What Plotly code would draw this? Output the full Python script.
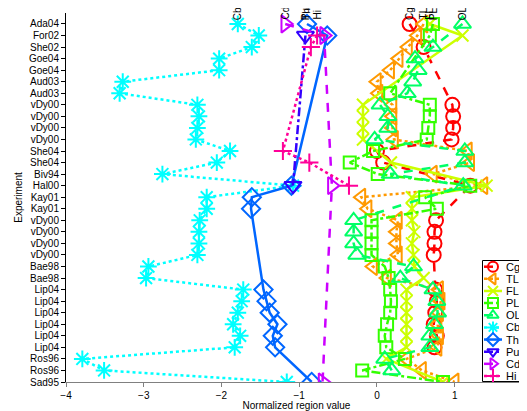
import plotly.graph_objects as go

experiments = ["Ada04", "For02", "She02", "Goe04", "Goe04", "Aud03", "Aud03",
               "vDy00", "vDy00", "vDy00", "vDy00", "She04", "She04", "Biv94",
               "Hal00", "Kay01", "Kay01", "vDy00", "vDy00", "vDy00", "vDy00",
               "Bae98", "Bae98", "Lip04", "Lip04", "Lip04", "Lip04", "Lip04",
               "Lip04", "Ros96", "Ros96", "Sad95"]

N = None
Cg = [0.42, N, 0.6, N, N, N, N, 0.97, 0.98, 0.98, 0.96, 0.0, 0.08, N, 1.2, N, N,
      0.76, 0.74, 0.74, 0.73, N, N, 0.75, 0.77, 0.75, 0.73, 0.77, 0.74, N, N, N]
TL = [0.6, 0.52, 0.4, 0.28, 0.17, 0.0, 0.02, 0.2, 0.2, 0.2, 0.22, 1.17, 1.2, 0.72,
      1.37, -0.2, -0.12, 0.27, 0.25, 0.25, 0.27, -0.05, 0.13, 0.8, 0.82, 0.8,
      0.78, 0.8, 0.78, 0.38, 0.58, 1.0]
FL = [0.68, 1.1, N, N, N, N, N, -0.18, -0.18, -0.18, -0.18, N, 0.18, N, 1.41,
      0.45, 0.45, 0.45, 0.48, 0.45, 0.47, 0.48, 0.6, 0.38, 0.38, 0.38, 0.38,
      0.38, 0.38, 0.12, N, 0.85]
PL = [0.72, 0.68, N, N, N, N, 0.17, 0.68, 0.68, 0.66, 0.64, -0.05, -0.35, 0.01,
      1.2, 0.62, 0.77, -0.07, -0.07, -0.07, -0.07, 0.1, 0.15, 0.17, 0.18, 0.17,
      0.13, 0.1, 0.12, 0.36, -0.19, 0.85]
OL = [1.1, N, 0.72, 0.49, 0.53, 0.46, 0.39, 0.04, 0.14, 0.14, -0.03, 1.13, 1.13,
      0.17, 1.11, N, N, -0.3, -0.3, -0.3, -0.26, 0.47, 0.3, 0.72, 0.77, 0.78,
      0.74, 0.68, 0.68, 0.1, 0.19, N]
Cb = [-1.79, -1.52, -1.61, -2.03, -2.03, -3.27, -3.31, -2.31, -2.29, -2.31, -2.33,
      -1.89, -2.06, -2.76, -1.08, -2.19, -2.19, -2.28, -2.29, -2.29, -2.31, -2.94,
      -2.97, -1.72, -1.74, -1.79, -1.85, -1.76, -1.83, -3.79, -3.51, -1.16]
Th = [-0.9, -0.64, N, N, N, N, N, N, N, N, N, N, N, N, -1.1, -1.61, -1.62, N, N,
      N, N, N, N, -1.46, -1.42, -1.38, -1.28, -1.34, -1.31, N, N, -0.84]
Pu = [N, -0.92, N, N, N, N, N, N, N, N, N, N, N, N, -1.08, N, N, N, N, N, N, N,
      N, N, N, N, N, N, N, N, N, N]
Cd = [-1.18, -0.68, N, N, N, N, N, N, N, N, N, N, N, N, -0.58, N, N, N, N, N, N,
      N, N, N, N, N, N, N, N, N, N, -0.70]
Hi = [N, -0.77, -0.85, N, N, N, N, N, N, N, N, -1.21, -0.87, N, -0.36, N, N, N,
      N, N, N, N, N, N, N, N, N, N, N, N, N, N]

series_names = ["Cg", "TL", "FL", "PL", "OL", "Cb", "Th", "Pu", "Cd", "Hi"]
series_vals = [Cg, TL, FL, PL, OL, Cb, Th, Pu, Cd, Hi]
colors = ["#FF0000", "#FF9900", "#CCFF00", "#33FF00", "#00FF66",
          "#00FFFF", "#0066FF", "#3300FF", "#CC00FF", "#FF0099"]
symbols = ["circle-open", "triangle-left-open", "x-thin-open", "square-open",
           "triangle-up-open", "asterisk-open", "diamond-open",
           "triangle-down-open", "triangle-right-open", "cross-thin-open"]
sizes = [14, 15, 12, 12, 15, 14, 14, 15, 15, 13]
dashes = ["dash", "dot", "solid", "dashdot", "dash", "dot", "solid",
          "dashdot", "dash", "dot"]

rows = list(range(len(experiments)))
font = "Liberation Sans, Arial, sans-serif"

fig = go.Figure()
for name, vals, c, s, sz, d in zip(series_names, series_vals, colors, symbols,
                                    sizes, dashes):
    fig.add_trace(go.Scatter(
        x=vals, y=rows, name=name, mode="lines+markers", connectgaps=True,
        line=dict(color=c, width=2.5, dash=d),
        marker=dict(symbol=s, size=sz, color=c, line=dict(color=c, width=2)),
        showlegend=False, xaxis="x", yaxis="y",
    ))

# ---- compact legend box drawn on an overlay axis (pixel-like units) ----
LW, LH = 45, 122
fig.add_trace(go.Scatter(
    x=[0.5, LW - 0.5, LW - 0.5, 0.5, 0.5], y=[0.5, 0.5, LH - 0.5, LH - 0.5, 0.5],
    mode="lines", fill="toself", fillcolor="white",
    line=dict(color="black", width=1), showlegend=False, hoverinfo="skip",
    xaxis="x2", yaxis="y2"))
annotations = []
for i, (name, c, s, d) in enumerate(zip(series_names, colors, symbols, dashes)):
    yy = 6.7 + 12.14 * i
    fig.add_trace(go.Scatter(
        x=[2, 20], y=[yy, yy], mode="lines", line=dict(color=c, width=2.5, dash=d),
        showlegend=False, hoverinfo="skip", xaxis="x2", yaxis="y2"))
    fig.add_trace(go.Scatter(
        x=[11], y=[yy], mode="markers",
        marker=dict(symbol=s, size=10, color=c, line=dict(color=c, width=2)),
        showlegend=False, hoverinfo="skip", xaxis="x2", yaxis="y2"))
    annotations.append(dict(
        x=23, y=yy, xref="x2", yref="y2", text=name, showarrow=False,
        xanchor="left", yanchor="middle", borderpad=0,
        font=dict(family=font, size=11, color="black")))

for name, vals in zip(series_names, series_vals):
    first = next(v for v in vals if v is not None)
    annotations.append(dict(
        x=first, y=-0.27, xref="x", yref="y", text=name, showarrow=False,
        textangle=-90, xanchor="center", yanchor="bottom", borderpad=0,
        font=dict(family=font, size=10, color="black")))

W, H = 519, 403
L, T, B = 58, 5, 29
pw, ph = W - L, H - T - B
box_left = 474
box_top = 252

fig.update_layout(
    width=W, height=H,
    margin=dict(l=L, r=0, t=T, b=B),
    paper_bgcolor="white", plot_bgcolor="white",
    font=dict(family=font, size=10, color="black"),
    annotations=annotations,
    showlegend=False,
    xaxis=dict(range=[-4, 1.93], tickvals=[-4, -3, -2, -1, 0, 1],
               showgrid=False, zeroline=False, showline=True, automargin=False,
               linecolor="#808080", linewidth=1, ticks="outside", ticklen=4,
               tickcolor="#808080",
               title=dict(text="Normalized region value", standoff=1,
                          font=dict(size=10))),
    yaxis=dict(range=[31, -0.95], tickvals=rows, ticktext=experiments,
               showgrid=False, zeroline=False, showline=True, automargin=False,
               linecolor="black", linewidth=1, ticks="outside", ticklen=4,
               tickcolor="black",
               title=dict(text="Experiment", standoff=4, font=dict(size=10))),
    xaxis2=dict(domain=[(box_left - L) / pw, 1], range=[0, LW], visible=False,
                anchor="y2", fixedrange=True),
    yaxis2=dict(domain=[0, (H - B - box_top) / ph], range=[LH, 0], visible=False,
                anchor="x2", fixedrange=True),
)

fig.write_html("out.html")
